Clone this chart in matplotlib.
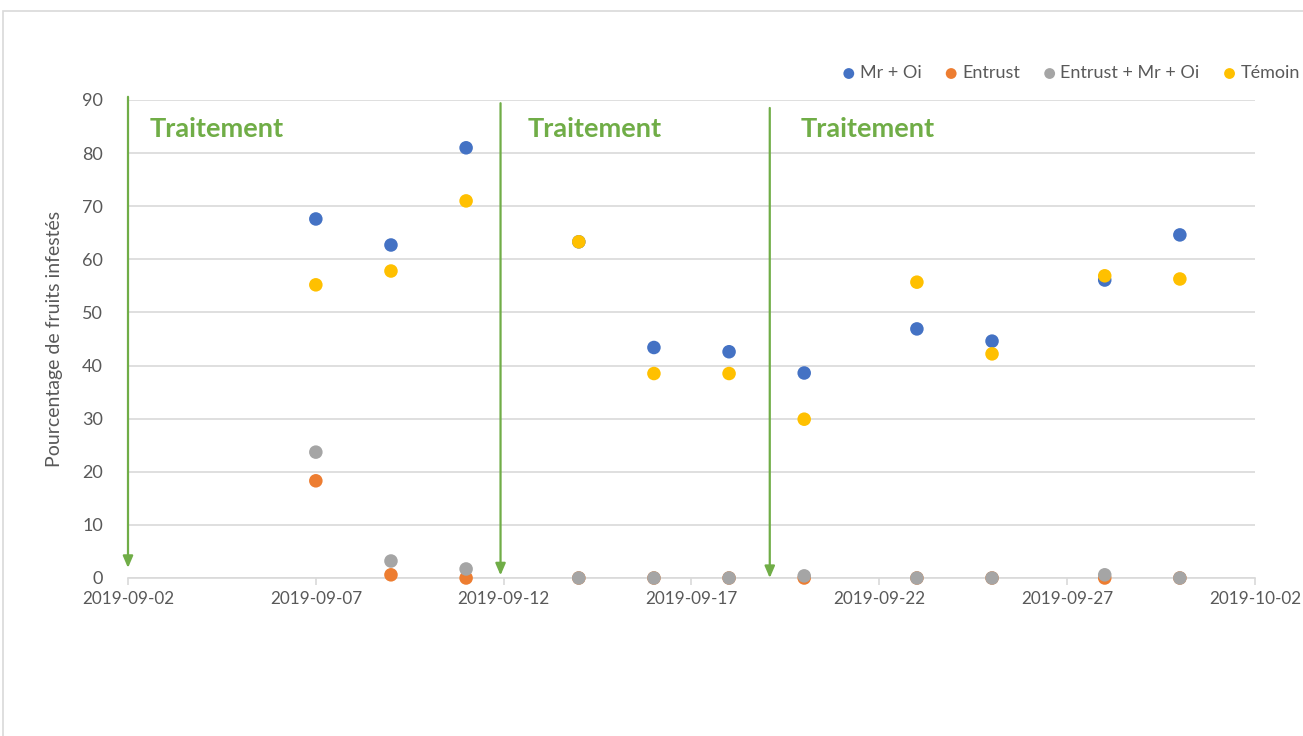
import matplotlib
matplotlib.use("Agg")
import matplotlib.pyplot as plt
import matplotlib.dates as mdates
from matplotlib.patches import Rectangle
import datetime as dt

plt.rcParams['font.family'] = ['Lato', 'DejaVu Sans']

dates = ["2019-09-07", "2019-09-09", "2019-09-11", "2019-09-14", "2019-09-16",
         "2019-09-18", "2019-09-20", "2019-09-23", "2019-09-25", "2019-09-28",
         "2019-09-30"]
mr_oi = [67.6, 62.7, 81.0, 63.3, 43.4, 42.6, 38.6, 46.9, 44.6, 56.1, 64.6]
entrust = [18.3, 0.6, 0.0, 0.0, 0.0, 0.0, 0.0, 0.0, 0.0, 0.0, 0.0]
entrust_mr_oi = [23.7, 3.2, 1.7, 0.0, 0.0, 0.0, 0.4, 0.0, 0.0, 0.6, 0.0]
temoin = [55.2, 57.8, 71.0, 63.3, 38.5, 38.5, 29.9, 55.7, 42.2, 56.9, 56.3]

series_names = ["Mr + Oi", "Entrust", "Entrust + Mr + Oi", "Témoin"]
series_colors = ["#4472C4", "#ED7D31", "#A5A5A5", "#FFC000"]

# treatment arrows: where each one sits, where it starts and ends
treatment_dates = ["2019-09-02 00:00", "2019-09-11 22:00", "2019-09-19 02:00"]
treatment_tops = [90.6, 89.4, 88.5]
treatment_tips = [1.9, 0.5, 0.0]
label_dates = ["2019-09-02 14:00", "2019-09-12 15:30", "2019-09-19 21:30"]
treatment_label = "Traitement"

x_ticks = ["2019-09-02", "2019-09-07", "2019-09-12", "2019-09-17",
           "2019-09-22", "2019-09-27", "2019-10-02"]
y_ticks = [0, 10, 20, 30, 40, 50, 60, 70, 80, 90]
y_label = "Pourcentage de fruits infestés"


def to_num(s):
    fmt = "%Y-%m-%d %H:%M" if " " in s else "%Y-%m-%d"
    return mdates.date2num(dt.datetime.strptime(s, fmt))


xd = [to_num(d) for d in dates]

W, H = 1303, 736
fig = plt.figure(figsize=(W / 100, H / 100), dpi=100)

# outer chart-area frame
fig.patches.append(Rectangle((3 / W, -0.05), 1.2, 1 - 11 / H + 0.05,
                             transform=fig.transFigure, fill=False,
                             edgecolor="#D9D9D9", linewidth=1.2))

ax = fig.add_axes([128 / W, 1 - 578 / H, (1255 - 128) / W, (578 - 100) / H])
ax.set_xlim(to_num(x_ticks[0]), to_num(x_ticks[-1]))
ax.set_ylim(0, 90)

ax.set_yticks(y_ticks)
ax.yaxis.grid(True, color="#D9D9D9", linewidth=1.2)
ax.set_axisbelow(True)
ax.set_xticks([to_num(d) for d in x_ticks])
ax.set_xticklabels(x_ticks)
for s in ["top", "right", "left"]:
    ax.spines[s].set_visible(False)
ax.spines["bottom"].set_color("#D9D9D9")
ax.spines["bottom"].set_linewidth(1.2)
ax.tick_params(axis="x", colors="#595959", labelsize=12.3, length=5,
               width=1.2, color="#D9D9D9", pad=4)
ax.tick_params(axis="y", colors="#595959", labelsize=13, length=0, pad=18)
for lab in ax.get_xticklabels():
    lab.set_color("#595959")
ax.set_ylabel(y_label, color="#595959", fontsize=14, labelpad=14)

for vals, name, col in zip([mr_oi, entrust, entrust_mr_oi, temoin],
                           series_names, series_colors):
    ax.scatter(xd, vals, s=95, color=col, label=name, zorder=3,
               edgecolors="none", clip_on=False)

green = "#70AD47"
for d, top, tip, ld in zip(treatment_dates, treatment_tops, treatment_tips,
                           label_dates):
    x = to_num(d)
    ax.annotate("", xy=(x, tip), xytext=(x, top),
                arrowprops=dict(arrowstyle="-|>,head_length=0.7,head_width=0.3",
                                color=green, lw=1.6, shrinkA=0, shrinkB=0),
                annotation_clip=False, zorder=4)
    ax.text(to_num(ld), 84.5, treatment_label, color=green, fontsize=19.5,
            fontweight="bold", va="center", ha="left")

leg = fig.legend(loc="upper right", bbox_to_anchor=(1316 / W, 1 - 49 / H),
                 ncol=4, frameon=False, fontsize=13, handlelength=0.7,
                 handletextpad=0.25, columnspacing=1.3, markerscale=0.8)
for t in leg.get_texts():
    t.set_color("#595959")

fig.savefig("out.png", dpi=100)
